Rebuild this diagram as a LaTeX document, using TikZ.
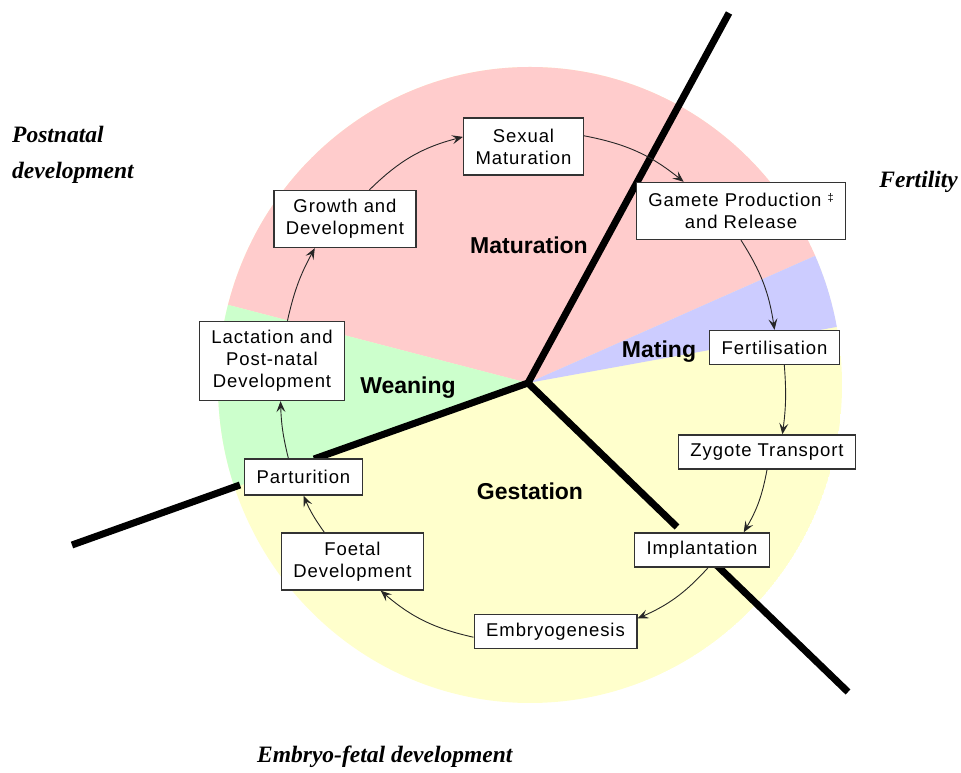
\documentclass[tikz,border=0pt]{standalone}
\usepackage{fontspec}
\setmainfont{Liberation Sans}
\newfontfamily\stagefont[LetterSpace=5]{Liberation Sans}
\newfontfamily\phasefont{Liberation Serif}
\usetikzlibrary{arrows.meta}
\definecolor{matpink}{HTML}{FFCCCC}
\definecolor{weangreen}{HTML}{CCFFCC}
\definecolor{mateblue}{HTML}{CCCCFF}
\definecolor{gestyellow}{HTML}{FFFFCC}
\tikzset{
    stage/.style={draw=black!80, line width=1.4pt, fill=white, align=center,
        inner xsep=12pt, inner ysep=0pt, minimum height=34pt,
        font=\stagefont\fontsize{18.5}{22}\selectfont},
    stagetwo/.style={stage, minimum height=57pt},
    flow/.style={draw=black!85, line width=0.9pt,
        -{Stealth[length=11pt, width=9pt, inset=4.5pt]}},
    period/.style={font=\bfseries\fontsize{23}{27}\selectfont, inner sep=0pt},
    phase/.style={font=\phasefont\bfseries\itshape\fontsize{23.5}{36}\selectfont,
        inner sep=0pt, align=left},
    spoke/.style={line width=7pt}
}
\begin{document}
\begin{tikzpicture}[x=1pt, y=1pt]
    \useasboundingbox (0,0) rectangle (961,773);
    \coordinate (hub) at (528,390);
    \begin{scope}
    \clip (530,388) ellipse (312 and 318);
    \fill[gestyellow] (530,388) ellipse (312 and 318);
    \fill[matpink]
        (hub) -- +(23.9:500) -- +(60:500) -- +(100:500) -- +(140:500) -- +(165.4:500) -- cycle;
    \fill[weangreen]
        (hub) -- +(165.4:500) -- +(199.6:500) -- cycle;
    \fill[mateblue]
        (hub) -- +(10.3:500) -- +(23.9:500) -- cycle;
    \end{scope}
    \begin{scope}[spoke]
    \draw (hub) -- (729,760);
    \draw (hub) -- (314,314) (240,288) -- (72,228);
    \draw (hub) -- (677,246) (705,219) -- (848,81);
    \end{scope}

    \node[stagetwo] (sexmat) at (523.5,626.5) {Sexual\\Maturation};
    \node[stagetwo] (gamete) at (741,562)
        {Gamete Production \raisebox{5pt}{\fontsize{11}{11}\selectfont ‡}\\and Release};
    \node[stage] (fert) at (774.5,425.5) {Fertilisation};
    \node[stage] (zygote) at (767,321) {Zygote Transport};
    \node[stage] (implant) at (702,223) {Implantation};
    \node[stage] (embryo) at (555.5,141.5) {Embryogenesis};
    \node[stagetwo] (foetal) at (352.5,211.5) {Foetal\\Development};
    \node[stage, minimum height=36pt] (partur) at (303.5,296) {Parturition};
    \node[stage, minimum height=79pt] (lact) at (272,412)
        {Lactation and\\Post-natal\\Development};
    \node[stagetwo] (growth) at (345,554) {Growth and\\Development};

    \draw[flow] (growth.50) to[bend left=15] (sexmat.171);
    \draw[flow] (sexmat.10) to[bend left=14] (gamete.153);
    \draw[flow] (gamete.south) to[bend left=12] (fert.north);
    \draw[flow] (fert.-61) to[bend left=6] (zygote.49);
    \draw[flow] (zygote.south) to[bend left=10] (implant.23);
    \draw[flow] (implant.-71) to[bend left=12] (embryo.9);
    \draw[flow] (embryo.184) to[bend left=14] (foetal.-46);
    \draw[flow] (foetal.134) to[bend left=6] (partur.south);
    \draw[flow] (partur.129) to[bend left=6] (lact.-78);
    \draw[flow] (lact.69) to[bend left=8] (growth.-136);

    \node[period, anchor=base] (maturation) at (529,519) {Maturation};
    \node[period, anchor=base] (mating) at (659,415) {Mating};
    \node[period, anchor=base] (weaning) at (408,379) {Weaning};
    \node[period, anchor=base] (gestation) at (530,273) {Gestation};

    \node[phase, anchor=north west] (postnatal) at (12,647) {Postnatal\\development};
    \node[phase, anchor=base east] (fertility) at (958,585) {Fertility};
    \node[phase, anchor=base west] (embryofetal) at (257,10) {Embryo-fetal development};
\end{tikzpicture}
\end{document}
